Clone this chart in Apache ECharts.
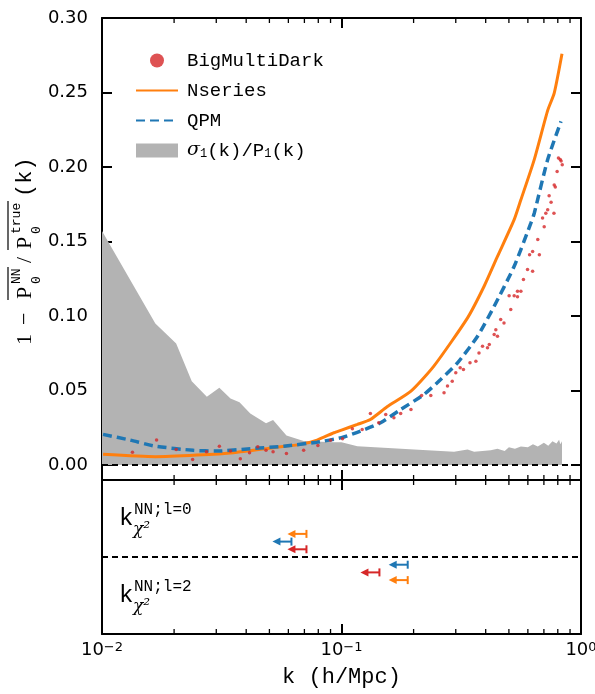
<!DOCTYPE html>
<html>
<head>
<meta charset="utf-8">
<script src="https://cdn.jsdelivr.net/npm/echarts@6.0.0/dist/echarts.min.js"></script>
<style>
  html, body { margin: 0; padding: 0; background: #fff; }
  #chart { width: 595px; height: 694px; }
</style>
</head>
<body>
<div id="chart"></div>
<script>
// sigma_1(k)/P_1(k) band (grey)
const kSigma = [0.0100, 0.0167, 0.0204, 0.0237, 0.0274, 0.0309, 0.0344, 0.0375, 0.0416, 0.0484,
  0.0518, 0.0589, 0.0695, 0.0929, 0.100, 0.1165, 0.150, 0.201, 0.295, 0.336, 0.358, 0.42, 0.448,
  0.48, 0.50, 0.53, 0.561, 0.60, 0.63, 0.66, 0.70, 0.73, 0.76, 0.79, 0.81, 0.82, 0.833];
const sigma = [0.157, 0.095, 0.0816, 0.0563, 0.0458, 0.0519, 0.0447, 0.0422, 0.0347, 0.028,
  0.0302, 0.0199, 0.0161, 0.0154, 0.0154, 0.0127, 0.0117, 0.0105, 0.0090, 0.0105, 0.0090, 0.0100, 0.011,
  0.0095, 0.012, 0.011, 0.0125, 0.012, 0.014, 0.0125, 0.015, 0.013, 0.016, 0.0145, 0.017, 0.014, 0.016];

// Nseries (orange)
const kNseries = [0.0101, 0.0167, 0.0249, 0.0354, 0.052, 0.0673, 0.0791, 0.0929, 0.100, 0.1165,
  0.132, 0.155, 0.195, 0.243, 0.336, 0.394, 0.448, 0.526, 0.561, 0.638, 0.726, 0.773, 0.833];
const nseries = [0.0072, 0.0056, 0.0067, 0.0083, 0.0117, 0.0139, 0.0168, 0.0217, 0.0235, 0.0273,
  0.0306, 0.0391, 0.0496, 0.0664, 0.0988, 0.120, 0.140, 0.1647, 0.178, 0.205, 0.238, 0.2496, 0.276];

// QPM (blue dashed)
const kQPM = [0.0101, 0.0131, 0.0167, 0.0241, 0.0302, 0.0416, 0.0574, 0.0791, 0.100, 0.120,
  0.1456, 0.1766, 0.221, 0.2594, 0.305, 0.370, 0.434, 0.526, 0.618, 0.638, 0.726, 0.825];
const qpm = [0.0206, 0.0168, 0.0127, 0.0099, 0.0094, 0.011, 0.0127, 0.0154, 0.0184, 0.0228,
  0.0284, 0.0373, 0.0474, 0.0574, 0.0686, 0.0865, 0.1066, 0.1334, 0.1625, 0.169, 0.205, 0.2306];

// BigMultiDark (red dots)
const kBMD = [0.0134, 0.0169, 0.0204, 0.0239, 0.0273, 0.0309, 0.0344, 0.0378, 0.0413, 0.0447,
  0.0484, 0.0518, 0.0589, 0.0695, 0.0797, 0.090, 0.101, 0.111, 0.122, 0.132, 0.143, 0.153, 0.1655,
  0.1766, 0.195, 0.216, 0.236, 0.268, 0.277, 0.290, 0.300, 0.313, 0.323, 0.344, 0.364, 0.375,
  0.388, 0.407, 0.414, 0.434, 0.441, 0.448, 0.462, 0.477, 0.501, 0.509, 0.526, 0.543, 0.543,
  0.561, 0.575, 0.598, 0.610, 0.628, 0.628, 0.660, 0.670, 0.691, 0.702, 0.713, 0.726, 0.736,
  0.750, 0.771, 0.773, 0.781, 0.795, 0.805, 0.819, 0.826, 0.835];
const bmd = [0.0087, 0.0168, 0.0105, 0.0038, 0.009, 0.0127, 0.0094, 0.0043, 0.0083, 0.0123,
  0.0099, 0.009, 0.0078, 0.0099, 0.0132, 0.0166, 0.0177, 0.0244, 0.0239, 0.0347, 0.0284, 0.034, 0.0318,
  0.0347, 0.0373, 0.0467, 0.0467, 0.0485, 0.053, 0.0563, 0.062, 0.0653, 0.0641, 0.0686, 0.0697, 0.0753,
  0.0797, 0.0787, 0.0809, 0.0876, 0.0909, 0.0865, 0.0977, 0.0954, 0.1137, 0.1044, 0.1137, 0.1166, 0.1129,
  0.1166, 0.1245, 0.1312, 0.1412, 0.1434, 0.130, 0.1513, 0.1412, 0.1658, 0.160, 0.169, 0.1714, 0.1808,
  0.1763, 0.169, 0.188, 0.1866, 0.197, 0.206, 0.205, 0.204, 0.2015];

// k_chi2 upper limits (lower panel): l=0 above the dashed line, l=2 below
const limitNames = ['BigMultiDark', 'Nseries', 'QPM'];
const limitColors = ['#d62728', '#ff7f0e', '#1f77b4'];
const kLimitL0 = [0.0714, 0.0714, 0.0618];
const kLimitL2 = [0.144, 0.189, 0.189];
const rowL0 = [0.1, 0.3, 0.2];
const rowL2 = [-0.2, -0.3, -0.1];

// minor ticks of the log axis
const minorK = [0.02, 0.03, 0.04, 0.05, 0.06, 0.07, 0.08, 0.09, 0.2, 0.3, 0.4, 0.5, 0.6, 0.7, 0.8, 0.9];
const expLabel = { '-2': '−2', '-1': '−1', '0': '0' };

const pairs = (xs, ys) => xs.map((x, i) => [x, ys[i]]);

const MONO = '"Liberation Mono", "DejaVu Sans Mono", monospace';
const SERIF = '"Liberation Serif", "DejaVu Serif", serif';
const SANS = '"DejaVu Sans", sans-serif';
const BLACK = '#000';

const chart = echarts.init(document.getElementById('chart'), null, { renderer: 'canvas' });

const logAxis = (gridIndex, position, showLabels) => ({
  type: 'log', logBase: 10, min: 0.01, max: 1, gridIndex: gridIndex, position: position,
  axisLine: { show: true, onZero: false, lineStyle: { color: BLACK, width: 2 } },
  axisTick: { show: true, inside: true, length: 10, lineStyle: { color: BLACK, width: 2 } },
  splitLine: { show: false },
  axisLabel: {
    show: showLabels, color: BLACK, fontFamily: SANS, fontSize: 18, margin: 7,
    formatter: v => '10{sup|' + expLabel[String(Math.round(Math.log10(v)))] + '}',
    rich: { sup: { fontFamily: SANS, fontSize: 13, verticalAlign: 'top', padding: [0, 0, 5, 0] } }
  }
});

const topY = (position, showLabels) => ({
  type: 'value', gridIndex: 0, position: position, min: -0.01, max: 0.30, splitNumber: 6,
  axisLine: { show: true, onZero: false, lineStyle: { color: BLACK, width: 2 } },
  axisTick: { show: true, inside: true, length: 10, lineStyle: { color: BLACK, width: 2 } },
  splitLine: { show: false },
  axisLabel: {
    show: showLabels, color: BLACK, fontFamily: SANS, fontSize: 18, margin: 14,
    showMinLabel: false, formatter: v => v.toFixed(2)
  }
});

const lowY = position => ({
  type: 'value', gridIndex: 1, position: position, min: -1, max: 1,
  axisLine: { show: true, onZero: false, lineStyle: { color: BLACK, width: 2 } },
  axisTick: { show: false }, axisLabel: { show: false }, splitLine: { show: false }
});

// short inward minor ticks on top and bottom edge of a panel
const minorTicks = (yLo, yHi) => (params, api) => {
  const top = api.coord([api.value(0), yHi]);
  const bot = api.coord([api.value(0), yLo]);
  const st = { stroke: BLACK, lineWidth: 1.3 };
  return {
    type: 'group', children: [
      { type: 'line', shape: { x1: top[0], y1: top[1], x2: top[0], y2: top[1] + 5 }, style: st },
      { type: 'line', shape: { x1: bot[0], y1: bot[1], x2: bot[0], y2: bot[1] - 5 }, style: st }
    ]
  };
};

// left pointing arrow ending in a bar at the limit value
const limitArrow = (params, api) => {
  const p = api.coord([api.value(0), api.value(1)]);
  const c = api.visual('color');
  const x = p[0], y = p[1];
  return {
    type: 'group', children: [
      { type: 'line', shape: { x1: x - 12, y1: y, x2: x, y2: y }, style: { stroke: c, lineWidth: 2 } },
      { type: 'line', shape: { x1: x, y1: y - 4, x2: x, y2: y + 4 }, style: { stroke: c, lineWidth: 2 } },
      { type: 'polygon', shape: { points: [[x - 19, y], [x - 11, y - 4], [x - 11, y + 4]] }, style: { fill: c } }
    ]
  };
};

const dashedZero = { color: BLACK, width: 1.8, type: [6, 4] };

const limitSeries = limitNames.map((name, i) => ({
  name: name + ' limit', type: 'custom', xAxisIndex: 2, yAxisIndex: 2,
  color: limitColors[i], renderItem: limitArrow, z: 6,
  data: [[kLimitL0[i], rowL0[i]], [kLimitL2[i], rowL2[i]]]
}));

// y axis title: 1 - overline(P0^NN) / overline(P0^true) (k), rotated
const t = (text, x, y, size, family) => ({
  type: 'text', x: x, y: y,
  style: { text: text, font: size + 'px ' + (family || MONO), fill: BLACK, align: 'left', verticalAlign: 'middle' }
});
const bar = (x1, x2, y) => ({ type: 'line', shape: { x1: x1, y1: y, x2: x2, y2: y }, style: { stroke: BLACK, lineWidth: 1.2 } });

const yTitle = {
  type: 'group', x: 32, y: 345, rotation: Math.PI / 2,
  children: [
    t('1', 0, -7, 22, SERIF), t('−', 20, -7, 22, SERIF),
    t('P', 46, -7, 22, SERIF), t('NN', 61, -15, 13), t('0', 61, 5, 13), bar(45, 78, -24),
    t('/', 82, -7, 22, SERIF),
    t('P', 96, -7, 22, SERIF), t('true', 111, -15, 13), t('0', 111, 5, 13), bar(95, 144, -24),
    t('(k)', 148, -7, 22)
  ]
};

const kChiLabel = (yMid, ell) => ([
  { type: 'text', x: 119, y: yMid, style: { text: 'k', font: '24px ' + MONO, fill: BLACK, verticalAlign: 'middle' } },
  { type: 'text', x: 134, y: yMid - 9, style: { text: 'NN;l=' + ell, font: '16px ' + MONO, fill: BLACK, verticalAlign: 'middle' } },
  { type: 'text', x: 133, y: yMid + 11, style: { text: 'χ²', font: 'italic 17px "DejaVu Serif", serif', fill: BLACK, verticalAlign: 'middle' } }
]);

const option = {
  backgroundColor: '#fff',
  animation: false,
  grid: [
    { left: 102, right: 14, top: 18, height: 462, outerBoundsMode: 'none' },
    { left: 102, right: 14, top: 480, height: 154, outerBoundsMode: 'none' }
  ],
  xAxis: [
    logAxis(0, 'bottom', false),
    logAxis(0, 'top', false),
    Object.assign(logAxis(1, 'bottom', true), {
      name: 'k (h/Mpc)', nameLocation: 'middle', nameGap: 32,
      nameTextStyle: { fontFamily: MONO, fontSize: 22, color: BLACK }
    }),
    logAxis(1, 'top', false)
  ],
  yAxis: [topY('left', true), topY('right', false), lowY('left'), lowY('right')],
  legend: {
    orient: 'vertical', left: 130, top: 46, itemWidth: 42, itemHeight: 14, itemGap: 11,
    selectedMode: false,
    data: [
      { name: 'BigMultiDark', icon: 'circle' },
      { name: 'Nseries', itemStyle: { opacity: 0 } },
      { name: 'QPM', itemStyle: { opacity: 0 } },
      { name: 'sigma', icon: 'rect' }
    ],
    formatter: n => n === 'sigma' ? '{g|σ}{s|1}(k)/P{s|1}(k)' : n,
    textStyle: {
      fontFamily: MONO, fontSize: 19, color: BLACK, padding: [0, 0, 0, 4],
      rich: {
        g: { fontFamily: '"DejaVu Serif", serif', fontStyle: 'italic', fontSize: 19, color: BLACK },
        s: { fontFamily: MONO, fontSize: 12, color: BLACK, verticalAlign: 'bottom' }
      }
    }
  },
  graphic: [yTitle].concat(kChiLabel(519, 0), kChiLabel(596, 2)),
  series: [
    {
      name: 'sigma', type: 'line', xAxisIndex: 0, yAxisIndex: 0, z: 1,
      color: '#b3b3b3', symbol: 'none', lineStyle: { width: 0 },
      areaStyle: { color: '#b3b3b3', opacity: 1 },
      data: pairs(kSigma, sigma),
      markLine: { silent: true, symbol: 'none', label: { show: false }, lineStyle: dashedZero, data: [{ yAxis: 0 }] }
    },
    {
      name: 'Nseries', type: 'line', xAxisIndex: 0, yAxisIndex: 0, z: 3,
      color: '#ff7f0e', symbol: 'none', smooth: 0.2, lineStyle: { width: 3 },
      data: pairs(kNseries, nseries)
    },
    {
      name: 'QPM', type: 'line', xAxisIndex: 0, yAxisIndex: 0, z: 4,
      color: '#1f77b4', symbol: 'none', smooth: 0.2, lineStyle: { width: 3.5, type: [9, 5] },
      data: pairs(kQPM, qpm)
    },
    {
      name: 'BigMultiDark', type: 'scatter', xAxisIndex: 0, yAxisIndex: 0, z: 5,
      color: '#d62728', symbol: 'circle', symbolSize: 3.5,
      data: pairs(kBMD, bmd)
    },
    {
      name: 'minor top', type: 'custom', xAxisIndex: 0, yAxisIndex: 0, z: 7,
      renderItem: minorTicks(-0.01, 0.30), data: minorK.map(k => [k, 0])
    },
    {
      name: 'minor low', type: 'custom', xAxisIndex: 2, yAxisIndex: 2, z: 7,
      renderItem: minorTicks(-1, 1), data: minorK.map(k => [k, 0])
    },
    {
      name: 'zero low', type: 'line', xAxisIndex: 2, yAxisIndex: 2, data: [],
      markLine: { silent: true, symbol: 'none', label: { show: false }, lineStyle: dashedZero, data: [{ yAxis: 0 }] }
    }
  ].concat(limitSeries)
};

chart.setOption(option);
</script>
</body>
</html>
